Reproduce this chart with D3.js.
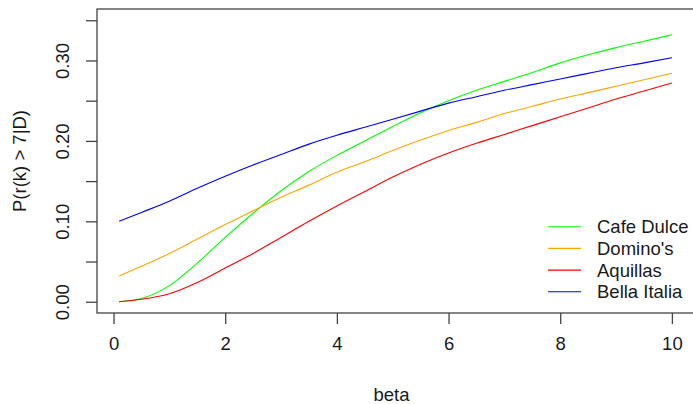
<!DOCTYPE html>
<html>
<head>
<meta charset="utf-8">
<script src="https://cdn.jsdelivr.net/npm/d3@7"></script>
<style>
  body { margin: 0; background: #fff; }
  text { font-family: "Liberation Sans", Arial, sans-serif; fill: #1a1a1a; }
</style>
</head>
<body>
<div id="chart"></div>
<script>
// data
var beta = [0.1, 0.5, 1, 1.5, 2, 2.5, 3, 3.5, 4, 4.5, 5, 5.5, 6, 6.5, 7, 7.5, 8, 8.5, 9, 9.5, 10];
var cafeDulce = [0, 0.004, 0.020, 0.048, 0.080, 0.110, 0.138, 0.162, 0.182, 0.200, 0.218, 0.235, 0.250, 0.263, 0.274, 0.285, 0.297, 0.307, 0.316, 0.324, 0.332];
var dominos = [0.032, 0.044, 0.060, 0.078, 0.096, 0.113, 0.130, 0.145, 0.161, 0.174, 0.188, 0.201, 0.213, 0.223, 0.234, 0.243, 0.252, 0.260, 0.268, 0.276, 0.284];
var aquillas = [0, 0.003, 0.010, 0.024, 0.042, 0.060, 0.080, 0.100, 0.119, 0.137, 0.155, 0.171, 0.185, 0.197, 0.208, 0.219, 0.230, 0.241, 0.252, 0.262, 0.272];
var bellaItalia = [0.100, 0.111, 0.125, 0.141, 0.156, 0.170, 0.183, 0.196, 0.207, 0.217, 0.227, 0.237, 0.247, 0.255, 0.263, 0.270, 0.277, 0.284, 0.291, 0.297, 0.3035];

var seriesNames = ["Cafe Dulce", "Domino's", "Aquillas", "Bella Italia"];
var seriesColors = ["#00ff00", "#ffa500", "#ff0000", "#0000ff"];
var seriesValues = [cafeDulce, dominos, aquillas, bellaItalia];

var xTicks = [0, 2, 4, 6, 8, 10];
var yTicks = [0, 0.05, 0.10, 0.15, 0.20, 0.25, 0.30, 0.35];
var yLabelled = [0, 0.10, 0.20, 0.30];

var width = 693, height = 404;
var fontSize = "18.5px";

var svg = d3.select("#chart")
  .append("svg")
    .attr("width", width)
    .attr("height", height);

// plot region (R style, 4% padding on each side)
var x = d3.scaleLinear()
  .domain([-0.296, 10.396])
  .range([97, 694]);

var y = d3.scaleLinear()
  .domain([-0.014, 0.364])
  .range([313, 9]);

// lines
var line = d3.line()
  .curve(d3.curveMonotoneX)
  .x(function(d) { return x(d[0]); })
  .y(function(d) { return y(d[1]); });

seriesValues.forEach(function(vals, i) {
  svg.append("path")
    .datum(beta.map(function(b, j) { return [b, vals[j]]; }))
    .attr("fill", "none")
    .attr("stroke", seriesColors[i])
    .attr("stroke-width", 1.1)
    .attr("d", line);
});

// box
svg.append("rect")
  .attr("x", 97)
  .attr("y", 9)
  .attr("width", 597)
  .attr("height", 304)
  .attr("fill", "none")
  .attr("stroke", "#444")
  .attr("stroke-width", 1.3);

// X axis
var xAxis = svg.append("g")
  .attr("transform", "translate(0,313)")
  .call(d3.axisBottom(x).tickValues(xTicks).tickSize(11).tickSizeOuter(0).tickFormat(d3.format("d")));
xAxis.select(".domain").remove();
xAxis.selectAll("line").attr("stroke", "#444").attr("stroke-width", 1.3);
xAxis.selectAll("text")
  .attr("y", 37)
  .attr("dy", null)
  .style("font-size", fontSize)
  .style("font-family", "'Liberation Sans', Arial, sans-serif")
  .attr("fill", "#1a1a1a");

// Y axis
var yAxis = svg.append("g")
  .attr("transform", "translate(97,0)")
  .call(d3.axisLeft(y).tickValues(yTicks).tickSize(11).tickSizeOuter(0)
    .tickFormat(function(d) {
      return yLabelled.some(function(v) { return Math.abs(v - d) < 1e-9; }) ? d3.format(".2f")(d) : "";
    }));
yAxis.select(".domain").remove();
yAxis.selectAll("line").attr("stroke", "#444").attr("stroke-width", 1.3);
yAxis.selectAll(".tick text")
  .attr("x", null)
  .attr("dy", null)
  .attr("text-anchor", "middle")
  .attr("transform", "translate(-28,0) rotate(-90)")
  .style("font-size", fontSize)
  .style("font-family", "'Liberation Sans', Arial, sans-serif")
  .attr("fill", "#1a1a1a");

// axis titles
svg.append("text")
  .attr("x", (97 + 694) / 2 - 4)
  .attr("y", 401)
  .attr("text-anchor", "middle")
  .style("font-size", fontSize)
  .text("beta");

svg.append("text")
  .attr("transform", "translate(26,161) rotate(-90)")
  .attr("text-anchor", "middle")
  .style("font-size", fontSize)
  .text("P(r(k) > 7|D)");

// legend
var legend = svg.append("g");
seriesNames.forEach(function(name, i) {
  var ly = 226.7 + i * 21.7;
  legend.append("line")
    .attr("x1", 548).attr("x2", 581)
    .attr("y1", ly).attr("y2", ly)
    .attr("stroke", seriesColors[i])
    .attr("stroke-width", 1.1);
  legend.append("text")
    .attr("x", 597)
    .attr("y", ly)
    .attr("dy", "0.35em")
    .style("font-size", fontSize)
    .text(name);
});
</script>
</body>
</html>
